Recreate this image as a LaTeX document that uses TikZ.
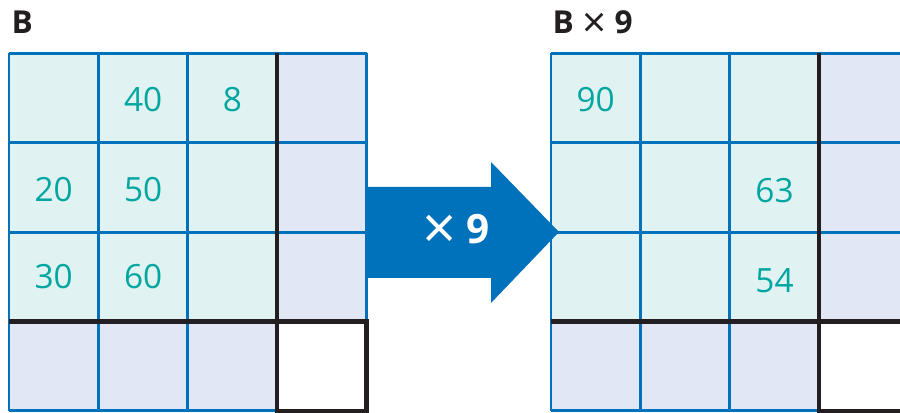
\documentclass[tikz,border=0pt]{standalone}
\usepackage{fontspec}
\setmainfont{Open Sans}
\definecolor{gridblue}{RGB}{0,114,188}
\definecolor{cellcyan}{RGB}{224,242,242}
\definecolor{celllav}{RGB}{225,231,244}
\definecolor{numteal}{RGB}{0,166,160}
\definecolor{inkblack}{RGB}{35,31,32}
\tikzset{
  num/.style={text=numteal, font=\fontsize{9.5}{11}\selectfont},
  heading/.style={anchor=base west, inner sep=0pt, text=inkblack, font=\fontsize{9}{11}\selectfont\bfseries},
  blueline/.style={draw=gridblue, line width=0.85pt},
  blackline/.style={draw=inkblack, line width=1.3pt},
}
\begin{document}
\begin{tikzpicture}
    \useasboundingbox (0,0) rectangle (9,4.13);
    \clip (0,0) rectangle (9,4.13);
    \foreach \gx in {0.09,5.51} {
      \begin{scope}[shift={(\gx,0.02)}, x=0.894cm, y=0.894cm]
        \fill [cellcyan] (0,1) rectangle (3,4);
        \fill [celllav] (3,1) rectangle (4,4);
        \fill [celllav] (0,0) rectangle (3,1);
        \foreach \k in {0,...,4} {
          \draw [blueline] (\k,0) -- (\k,4);
          \draw [blueline] (0,\k) -- (4,\k);
        }
        \draw [blackline] (3,0) -- (3,4);
        \draw [blackline] (0,1) -- (4,1);
        \draw [blackline] (3,0) rectangle (4,1);
      \end{scope}
    }
    \node [heading] (titleB) at (0.11,3.79) {B};
    \node [heading] (titleBx9) at (5.52,3.79) {B \raisebox{-1.1pt}{\mdseries\fontsize{12}{12}\selectfont ×} 9};
    \begin{scope}[shift={(0.09,0.02)}, x=0.894cm, y=0.894cm]
      \node [num] (b40) at (1.5,3.48) {40};
      \node [num] (b8) at (2.5,3.48) {8};
      \node [num] (b20) at (0.5,2.48) {20};
      \node [num] (b50) at (1.5,2.48) {50};
      \node [num] (b30) at (0.5,1.5) {30};
      \node [num] (b60) at (1.5,1.5) {60};
    \end{scope}
    \begin{scope}[shift={(5.51,0.02)}, x=0.894cm, y=0.894cm]
      \node [num] (p90) at (0.5,3.48) {90};
      \node [num] (p63) at (2.5,2.46) {63};
      \node [num] (p54) at (2.5,1.46) {54};
    \end{scope}
    \fill [gridblue] (3.68,2.26) -- (4.91,2.26) -- (4.91,2.51) -- (5.59,1.81)
      -- (4.91,1.10) -- (4.91,1.35) -- (3.68,1.35) -- cycle;
    \node [text=white, font=\fontsize{11.5}{12}\selectfont\bfseries] (times9) at (4.56,1.81)
      {\raisebox{-1.8pt}{\mdseries\fontsize{17}{17}\selectfont ×} 9};
\end{tikzpicture}
\end{document}
